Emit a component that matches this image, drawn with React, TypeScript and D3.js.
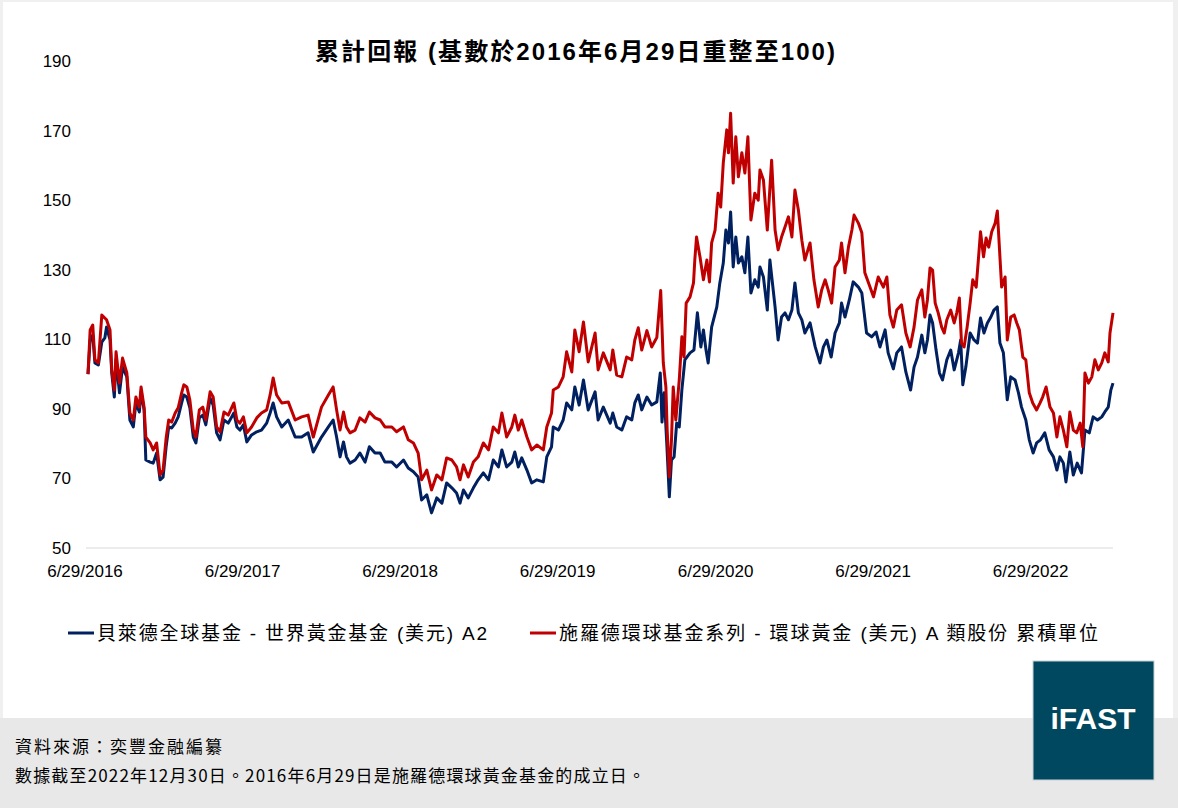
import React from 'react'
import * as d3 from 'd3'

// days since 6/29/2016, value (rebased to 100)
const blackrock: [number, number][] = [
  [0,100],[5,109.8],[11,111.2],[16,103.2],[24,102.6],[32,109.2],[39,110.4],[43,113.5],[51,109.8],[55,100.3],[61,93.4],[65,104.1],[73,94.6],[80,102],[90,99.2],[97,86.8],[105,84.8],[111,91.7],[119,89.1],[123,94.9],[130,89.7],[134,75.3],[144,74.7],[151,74.4],[159,77.3],[167,69.6],[174,70.4],[181,79.1],[187,84.8],[194,84.5],[202,85.9],[209,87.7],[217,91.7],[222,94],[229,93.4],[236,90.3],[244,81.9],[250,80.2],[258,87.4],[266,88.2],[273,85.4],[283,93.1],[290,91.1],[298,83.1],[306,81.1],[315,86.8],[325,85.9],[338,88.8],[345,84.8],[352,83.9],[360,85.4],[368,80.5],[379,82.5],[391,83.4],[402,83.9],[414,85.9],[422,88.8],[429,91.7],[437,87.7],[449,84.8],[464,86.8],[480,81.9],[495,81.9],[510,83.1],[522,77.6],[541,81.9],[557,84.8],[568,86.8],[576,81.9],[584,76.2],[592,80.5],[599,76.2],[607,74.4],[619,75.3],[630,77.3],[642,74.7],[652,79.1],[665,77.3],[677,77.3],[688,74.7],[704,74.7],[715,73.3],[731,75.3],[742,73],[754,71.9],[765,70.4],[773,63.8],[785,65.3],[796,60.1],[808,64.4],[820,62.9],[831,68.7],[843,67.3],[854,65.8],[862,62.9],[870,66.7],[881,64.4],[893,67.3],[904,69.6],[916,71.6],[928,69.6],[939,75.3],[951,73.3],[959,78.2],[970,73.3],[982,74.7],[989,77.6],[997,73.3],[1005,75.9],[1017,72.4],[1028,68.7],[1040,69.6],[1055,69],[1063,76.2],[1074,79.1],[1078,84.8],[1090,83.9],[1101,86.8],[1109,91.7],[1121,89.7],[1128,96.3],[1138,91.1],[1148,98.3],[1159,89.7],[1175,94.9],[1182,86.8],[1194,90.5],[1210,85.9],[1216,88.8],[1225,84.8],[1237,83.9],[1248,87.7],[1260,86.8],[1267,91.7],[1275,94],[1283,89.7],[1295,93.4],[1306,91.1],[1318,92],[1326,100.3],[1330,86.2],[1335,94.6],[1341,80.2],[1347,64.7],[1352,75.3],[1358,76.2],[1364,85.9],[1370,84.8],[1376,95.4],[1383,104.1],[1395,106.1],[1404,106.9],[1412,117.6],[1420,107.8],[1426,112.7],[1432,106.9],[1437,103.2],[1445,113.5],[1457,119.3],[1464,126.2],[1472,131.9],[1478,141.4],[1484,137.7],[1489,146.6],[1495,130.8],[1501,139.4],[1507,131.9],[1515,133.7],[1522,129.1],[1529,139.4],[1536,123.3],[1545,127.1],[1553,125],[1557,130.8],[1565,127.9],[1574,118.4],[1580,132.8],[1592,119.3],[1599,109.8],[1607,116.4],[1615,117.6],[1623,115.6],[1631,118.4],[1638,126.2],[1646,117.6],[1654,115.6],[1661,111.8],[1673,114.7],[1685,107.8],[1696,103.2],[1704,107.8],[1712,109.8],[1722,104.9],[1731,111.8],[1741,114.7],[1746,120.4],[1754,116.4],[1764,121.3],[1773,126.5],[1785,125],[1793,123.3],[1804,111.8],[1816,110.7],[1826,112.1],[1835,107.8],[1847,112.7],[1854,106.1],[1866,101.5],[1874,106.1],[1885,107.8],[1895,100.6],[1906,95.4],[1914,102],[1922,104.9],[1932,111.2],[1939,106.1],[1945,109.8],[1951,117],[1957,114.7],[1965,106.9],[1973,100.3],[1980,98.3],[1990,104.1],[1999,106.9],[2007,101.2],[2017,106.1],[2022,109.8],[2027,96.9],[2034,102],[2044,111.8],[2053,109.8],[2061,108.9],[2068,116.1],[2076,111.8],[2084,114.7],[2092,116.4],[2099,118.4],[2107,119.3],[2113,108.9],[2121,106.1],[2130,92.6],[2138,99.2],[2148,98.3],[2156,94.6],[2163,90.5],[2173,86.8],[2181,81.1],[2190,77.3],[2198,80.2],[2207,81.1],[2217,83.1],[2227,78.2],[2237,76.2],[2245,72.4],[2252,76.2],[2260,74.4],[2266,69],[2275,77.6],[2283,71],[2292,74.4],[2302,71.6],[2310,83.9],[2320,83.1],[2329,87.7],[2339,86.8],[2349,87.7],[2356,89.1],[2364,90.5],[2370,95.4],[2375,97.4]
]

const schroders: [number, number][] = [
  [0,100],[5,112.7],[11,114.1],[16,104.1],[24,103.2],[32,117],[43,115.6],[51,112.7],[55,101.2],[61,95.4],[65,106.4],[73,97.4],[80,104.6],[90,100.3],[97,88.8],[105,86.8],[111,93.4],[119,90.5],[123,96.3],[130,90.5],[134,81.9],[144,80.2],[151,78.2],[159,80.2],[167,71],[174,72.4],[181,81.6],[187,86.8],[194,86.2],[202,88.8],[209,90.3],[217,94.6],[222,96.9],[229,96.3],[236,92.6],[244,83.9],[250,81.9],[258,89.7],[266,90.5],[273,86.8],[283,94.9],[290,93.4],[298,84.8],[306,83.4],[315,89.1],[325,88.2],[338,91.7],[345,86.8],[352,85.9],[360,87.7],[368,83.1],[379,84.8],[391,87.4],[402,88.8],[414,89.7],[422,94],[429,98.9],[437,94],[449,91.7],[464,92],[480,86.8],[495,87.7],[510,88.2],[522,81.9],[541,90.5],[557,94],[568,96.3],[576,89.7],[584,83.9],[592,89.1],[599,84.8],[607,83.1],[619,83.9],[630,87.4],[642,86.2],[652,89.1],[665,87.4],[677,86.8],[688,84.8],[704,84.8],[715,83.4],[731,84.8],[742,81.1],[754,80.2],[765,77.3],[773,69.6],[785,72.4],[796,66.7],[808,71],[820,69.6],[831,75.9],[843,75.3],[854,73.3],[862,69.6],[870,73.9],[881,70.4],[893,74.7],[904,76.2],[916,80.2],[928,78.2],[939,84.8],[951,83.1],[959,88.8],[970,81.9],[982,84.8],[989,88.2],[997,83.9],[1005,86.8],[1017,81.9],[1028,78.2],[1040,79.6],[1055,78.2],[1063,84.8],[1074,88.8],[1078,95.4],[1090,96.3],[1101,99.2],[1109,106.4],[1121,100.6],[1128,112.7],[1138,106.4],[1148,115],[1159,103.5],[1175,111.8],[1182,101.2],[1194,106.1],[1210,101.2],[1216,106.9],[1225,99.7],[1237,99.2],[1248,104.9],[1260,104.1],[1267,109.8],[1275,113.3],[1283,106.9],[1295,112.5],[1306,107.8],[1318,110.5],[1327,124],[1333,103.2],[1339,96.3],[1342,83.9],[1347,70.4],[1352,81.1],[1356,96.3],[1362,86.8],[1370,98.3],[1376,110.7],[1381,104.9],[1386,120.4],[1395,122.2],[1403,126.2],[1406,132.8],[1410,139.4],[1418,133.7],[1426,127.1],[1434,132.8],[1440,126.5],[1445,137.7],[1453,141.4],[1460,152],[1466,148],[1472,160.7],[1480,170.2],[1484,163.6],[1489,175],[1495,154.9],[1501,168.2],[1507,156.7],[1515,163.6],[1522,157.8],[1529,168.2],[1536,144.3],[1545,152],[1553,150],[1557,158.7],[1565,155.8],[1574,141.4],[1584,161.5],[1592,141.4],[1599,135.7],[1607,139.4],[1615,142.3],[1623,145.2],[1631,139.4],[1638,152.9],[1646,147.2],[1654,138.5],[1661,132.8],[1673,137.7],[1682,127.1],[1692,119.3],[1700,124.2],[1708,127.1],[1715,124.2],[1723,120.4],[1731,130.8],[1741,132.8],[1746,137.7],[1754,129.1],[1762,136.5],[1770,141.4],[1775,145.7],[1785,143.4],[1793,140.6],[1800,129.1],[1812,125],[1820,122.2],[1831,127.9],[1843,125],[1851,127.9],[1858,117],[1866,113.5],[1874,118.4],[1885,119.9],[1895,111.8],[1905,107.8],[1914,113.5],[1922,121.3],[1932,124.2],[1939,116.4],[1945,121.3],[1951,130.5],[1957,129.9],[1963,120.4],[1970,117.6],[1978,113.5],[1984,111.8],[1990,115.6],[1999,118.4],[2007,114.7],[2013,117.6],[2019,121.9],[2024,108.9],[2030,107.8],[2037,113.5],[2044,120.4],[2050,127.1],[2058,125],[2063,132.8],[2068,140.9],[2075,133.7],[2081,139.1],[2087,136.5],[2094,140.9],[2102,143.4],[2107,146.9],[2113,133.7],[2117,125],[2125,127.9],[2130,109.8],[2138,116.4],[2146,117],[2152,114.7],[2158,112.7],[2166,104.9],[2173,104.1],[2181,94.6],[2189,91.7],[2198,89.7],[2206,91.7],[2212,93.4],[2220,96.3],[2229,90.5],[2237,88.8],[2245,81.9],[2252,87.7],[2260,83.9],[2268,79.1],[2275,89.1],[2283,83.9],[2291,83.1],[2299,85.9],[2305,79.1],[2310,100.3],[2318,97.4],[2326,99.2],[2333,104.1],[2341,101.2],[2349,103.2],[2356,106.1],[2364,103.5],[2368,111.8],[2375,117.6]
]

const yTicks = [50, 70, 90, 110, 130, 150, 170, 190]
const xTickYears = [2016, 2017, 2018, 2019, 2020, 2021, 2022]
const seriesNames = ['貝萊德全球基金 - 世界黃金基金 (美元) A2', '施羅德環球基金系列 - 環球黃金 (美元) A 類股份 累積單位']
const title = '累計回報 (基數於2016年6月29日重整至100)'
const notes = ['資料來源：奕豐金融編纂', '數據截至2022年12月30日。2016年6月29日是施羅德環球黃金基金的成立日。']

const baseDate = new Date(2016, 5, 29)
const endDate = new Date(2022, 11, 30)
const latin = 'Liberation Sans, Arial, Noto Sans CJK TC, sans-serif'
const cjk = 'Noto Sans CJK TC, Liberation Sans, sans-serif'

export default function App() {
  const x = d3.scaleTime().domain([baseDate, endDate]).range([88, 1113])
  const y = d3.scaleLinear().domain([50, 190]).range([548, 61])
  const line = d3.line<[number, number]>()
    .x(d => x(d3.timeDay.offset(baseDate, d[0])))
    .y(d => y(d[1]))

  return (
    <svg width={1178} height={808} style={{ position: 'fixed', left: 0, top: 0 }}>
      <rect width={1178} height={808} fill="#f0f0f0" />
      <rect x={3} y={2} width={1170} height={716} fill="#fff" />
      <rect x={0} y={718} width={1178} height={90} fill="#e8e8e8" />

      <text x={315} y={60} fontFamily={latin} fontSize={24} fontWeight="bold"
        textLength={520} lengthAdjust="spacing">{title}</text>

      {yTicks.map(t => (
        <text key={t} x={71} y={y(t)} dy="0.35em" textAnchor="end" fontFamily={latin} fontSize={17}>{t}</text>
      ))}
      <line x1={86} x2={1113} y1={y(50)} y2={y(50)} stroke="#d9d9d9" strokeWidth={1} />
      {xTickYears.map(yr => (
        <text key={yr} x={x(new Date(yr, 5, 29)) - 3} y={577} textAnchor="middle" fontFamily={latin} fontSize={17}>{`6/29/${yr}`}</text>
      ))}

      <path d={line(blackrock) ?? ''} fill="none" stroke="#002060" strokeWidth={3} strokeLinejoin="round" />
      <path d={line(schroders) ?? ''} fill="none" stroke="#c00000" strokeWidth={3} strokeLinejoin="round" />

      <line x1={68} x2={94} y1={633} y2={633} stroke="#002060" strokeWidth={3} />
      <text x={97} y={640} fontFamily={latin} fontSize={19} textLength={390} lengthAdjust="spacing">{seriesNames[0]}</text>
      <line x1={530} x2={556} y1={633} y2={633} stroke="#c00000" strokeWidth={3} />
      <text x={559} y={640} fontFamily={latin} fontSize={19} textLength={539} lengthAdjust="spacing">{seriesNames[1]}</text>

      <text x={15} y={753} fontFamily={cjk} fontSize={17} textLength={207} lengthAdjust="spacing">{notes[0]}</text>
      <text x={15} y={782} fontFamily={cjk} fontSize={17} textLength={630} lengthAdjust="spacing">{notes[1]}</text>

      <rect x={1033} y={661} width={121} height={119} fill="#00485f" stroke="#c8d0d4" strokeWidth={1} />
      <text x={1093} y={729} textAnchor="middle" fontFamily={latin} fontSize={30} fontWeight="bold" fill="#fff">iFAST</text>
    </svg>
  )
}
